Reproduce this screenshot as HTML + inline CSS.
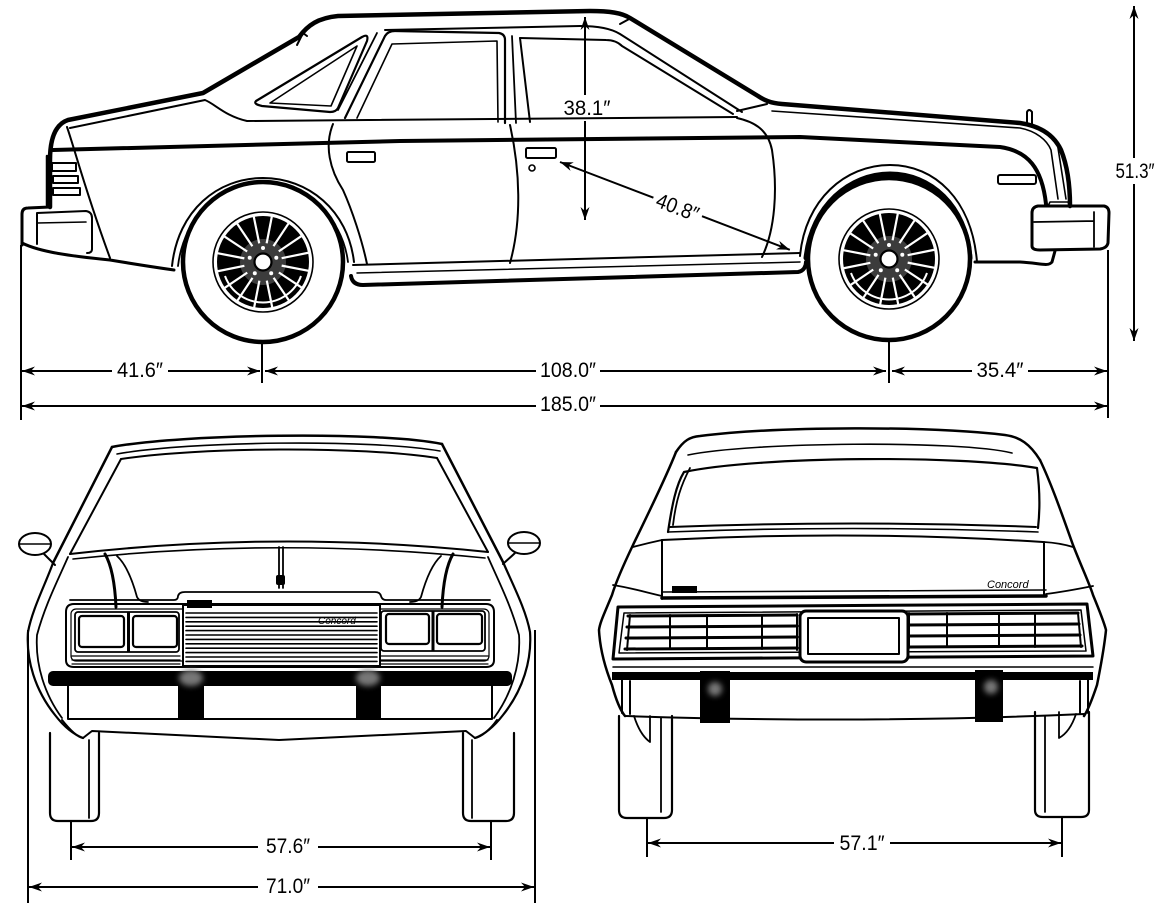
<!DOCTYPE html>
<html><head><meta charset="utf-8"><style>
html,body{margin:0;padding:0;background:#fff;}
svg{display:block;}
text{font-family:"Liberation Sans","DejaVu Sans",sans-serif;font-size:21px;fill:#000;}
.sc{font-style:italic;font-size:10px;}
</style></head><body>
<svg width="1167" height="910" viewBox="0 0 1167 910" xmlns="http://www.w3.org/2000/svg">
<defs>
 <filter id="bl" x="-1" y="-1" width="3" height="3"><feGaussianBlur stdDeviation="3"/></filter>
 <g id="wheel">
  <circle r="50" fill="#fff" stroke="#000" stroke-width="1.6"/>
  <circle r="46" fill="#000"/>
  <circle r="23" fill="#3c3c3c"/>
  <g stroke="#fff" stroke-width="2.2">
   <line x1="0" y1="-19" x2="0" y2="-47" transform="rotate(11)"/>
   <line x1="0" y1="-19" x2="0" y2="-47" transform="rotate(33.5)"/>
   <line x1="0" y1="-19" x2="0" y2="-47" transform="rotate(56)"/>
   <line x1="0" y1="-19" x2="0" y2="-47" transform="rotate(78.5)"/>
   <line x1="0" y1="-19" x2="0" y2="-47" transform="rotate(101)"/>
   <line x1="0" y1="-19" x2="0" y2="-47" transform="rotate(123.5)"/>
   <line x1="0" y1="-19" x2="0" y2="-47" transform="rotate(146)"/>
   <line x1="0" y1="-19" x2="0" y2="-47" transform="rotate(168.5)"/>
   <line x1="0" y1="-19" x2="0" y2="-47" transform="rotate(191)"/>
   <line x1="0" y1="-19" x2="0" y2="-47" transform="rotate(213.5)"/>
   <line x1="0" y1="-19" x2="0" y2="-47" transform="rotate(236)"/>
   <line x1="0" y1="-19" x2="0" y2="-47" transform="rotate(258.5)"/>
   <line x1="0" y1="-19" x2="0" y2="-47" transform="rotate(281)"/>
   <line x1="0" y1="-19" x2="0" y2="-47" transform="rotate(303.5)"/>
   <line x1="0" y1="-19" x2="0" y2="-47" transform="rotate(326)"/>
   <line x1="0" y1="-19" x2="0" y2="-47" transform="rotate(348.5)"/>
  </g>
  <path d="M-38,14 A40.5,40.5 0 0 0 38,14" stroke="#fff" stroke-width="2" fill="none"/>
  <circle r="8.5" fill="#fff" stroke="#000" stroke-width="2.2"/>
  <g fill="#fff">
   <circle cx="0" cy="-14" r="2"/><circle cx="13.3" cy="-4.3" r="2"/><circle cx="8.2" cy="11.3" r="2"/><circle cx="-8.2" cy="11.3" r="2"/><circle cx="-13.3" cy="-4.3" r="2"/>
  </g>
 </g>
</defs>

<!-- ================= SIDE VIEW ================= -->
<g fill="none" stroke="#000" stroke-linecap="round" stroke-linejoin="round">
<path stroke-width="4.5" d="M50,207 L50,160 C50,138 56,124 68,120 L203,93 L299,37 C308,25 318,18 338,16 L590,11 C610,11 622,13 630,18 L758,96 C764,100 770,103 782,104 L1020,123 C1040,126 1054,135 1061,150 C1067,165 1070,185 1070,206"/>
<path stroke-width="2" d="M70,128 L205,100 C215,104 225,116 247,121 L737,117"/>
<path stroke-width="2" d="M297,45 L303,33 L307,36"/>
<path stroke-width="2.2" d="M256,101 L362,37 Q369,33 367,41 L338,108 Q336,112 330,112 L262,106 Q253,104 256,101 Z"/>
<path stroke-width="1.6" d="M270,103 L357,46 L331,106 Z"/>
<path stroke-width="2.2" d="M345,118 L385,36 Q388,31 395,31 L499,33 Q505,34 505,40 L505,123"/>
<path stroke-width="1.6" d="M357,118 L392,44 L497,41 L498,122"/>
<path stroke-width="1.8" d="M338,110 L377,33"/>
<path stroke-width="1.8" d="M512,36 L516,123"/>
<path stroke-width="2" d="M520,38 L530,122"/>
<path stroke-width="2" d="M520,38 L606,40 Q616,40 622,46 L733,114"/>
<path stroke-width="2" d="M385,30 L580,26 C600,26 612,29 620,34 L742,112"/>
<path stroke-width="2" d="M737,111 L767,104"/>
<path stroke-width="2" d="M620,24 L631,18"/>
<path stroke-width="4" d="M53,150 L400,141 L800,137 L1000,147 C1028,151 1042,168 1046,204"/>
<path stroke-width="1.6" d="M772,111 L1020,128 C1036,131 1047,140 1051,150 L1058,199"/>
<path stroke-width="1.6" d="M1058,148 L1066,199"/>
<path stroke-width="2" d="M333,124 C324,146 330,170 343,190 C352,210 362,240 367,264"/>
<path stroke-width="2" d="M510,125 C520,170 522,220 510,263"/>
<path stroke-width="2" d="M737,118 C755,122 768,130 772,150 C778,190 775,230 762,257"/>
<rect x="347" y="152" width="28" height="10" rx="1.5" stroke-width="2"/>
<rect x="526" y="148" width="30" height="10" rx="1.5" stroke-width="2"/>
<circle cx="532" cy="168" r="3" stroke-width="1.6"/>
<path stroke-width="2" d="M353,265 L800,253"/>
<path stroke-width="1.5" d="M357,273 L800,262"/>
<path stroke-width="4" d="M351,276 C352,282 356,285 363,285 L798,272 C804,271 806,266 806,262"/>
<path stroke-width="2" d="M67,127 C75,150 85,190 110,258"/>
<rect x="52" y="163" width="24" height="8" stroke-width="2"/>
<rect x="53" y="176" width="25" height="7" stroke-width="2"/>
<rect x="53" y="188" width="27" height="7" stroke-width="2"/>
<path stroke-width="2.5" d="M47,156 L47,205"/>
<path stroke-width="3" d="M22,245 L22,214 Q22,208 28,208 L50,207"/>
<path stroke-width="2" d="M37,244 L37,213 L86,211 Q92,212 92,218 L92,249 Q92,253 87,253"/>
<path stroke-width="1.6" d="M37,223 L86,222"/>
<path stroke-width="3" d="M22,243 C40,252 70,256 110,260 C140,265 160,268 174,270"/>
<path stroke-width="2" d="M172,266 C178,210 218,178 263,178 C308,178 348,210 354,262"/>
<path stroke-width="1.8" d="M178,266 C184,215 222,184 263,184 C304,184 342,215 348,262"/>
<path stroke-width="2" d="M800,256 C805,200 845,165 890,165 C935,165 972,200 977,262"/>
<path stroke-width="5" d="M806,258 C812,205 850,174 890,174 C930,174 966,205 970,258"/>
<path stroke-width="3" d="M975,262 L1020,262 C1040,263 1048,267 1052,262 L1055,251"/>
<rect x="998" y="175" width="38" height="9" rx="2" stroke-width="2"/>
<path stroke-width="2" d="M1027,124 L1027,112 Q1029,108 1032,112 L1032,124"/>
<path stroke-width="3" d="M1032,246 L1032,213 Q1032,207 1038,206 L1104,206 Q1109,207 1109,213 L1108,243 Q1107,248 1100,249 L1040,250 Q1032,250 1032,246 Z"/>
<path stroke-width="1.8" d="M1034,222 L1094,221 M1094,212 L1094,247"/>
<path stroke-width="1.6" d="M1048,206 L1050,202 L1068,202 L1070,206"/>
</g>
<circle cx="263" cy="262" r="80" fill="#fff" stroke="#000" stroke-width="4.5"/>
<use href="#wheel" x="263" y="262"/>
<circle cx="889" cy="259" r="81" fill="#fff" stroke="#000" stroke-width="4.5"/>
<use href="#wheel" x="889" y="259"/>

<!-- side dimensions -->
<g stroke="#000" stroke-width="2" fill="none">
<path d="M21,245 L21,420 M1108,250 L1108,418 M262,343 L262,383 M889,341 L889,383"/>
<path d="M22,371 L112,371 M168,371 L260,371 M265,371 L536,371 M600,371 L886,371 M892,371 L972,371 M1028,371 L1107,371"/>
<path d="M22,406 L536,406 M600,406 L1107,406"/>
<path d="M1134,6 L1134,158 M1134,184 L1134,341"/>
<path d="M585,17 L585,95 M585,121 L585,220"/>
</g>
<g fill="#000">
<polygon points="22,371 35,366.5 31,371 35,375.5"/>
<polygon points="260,371 247,366.5 251,371 247,375.5"/>
<polygon points="265,371 278,366.5 274,371 278,375.5"/>
<polygon points="886,371 873,366.5 877,371 873,375.5"/>
<polygon points="892,371 905,366.5 901,371 905,375.5"/>
<polygon points="1107,371 1094,366.5 1098,371 1094,375.5"/>
<polygon points="22,406 35,401.5 31,406 35,410.5"/>
<polygon points="1107,406 1094,401.5 1098,406 1094,410.5"/>
<polygon points="1134,6 1129.5,19 1134,15 1138.5,19"/>
<polygon points="1134,341 1129.5,328 1134,332 1138.5,328"/>
<polygon points="585,17 580.5,30 585,26 589.5,30"/>
<polygon points="585,220 580.5,207 585,211 589.5,207"/>
</g>
<g transform="translate(560,162) rotate(20.9)">
 <path d="M0,0 L100,0 M152,0 L246,0" stroke="#000" stroke-width="2" fill="none"/>
 <polygon points="0,0 13,-4.5 9,0 13,4.5" fill="#000"/>
 <polygon points="246,0 233,-4.5 237,0 233,4.5" fill="#000"/>
 <text x="126" y="7.5" text-anchor="middle" textLength="44" lengthAdjust="spacingAndGlyphs">40.8″</text>
</g>
<text x="140" y="377" text-anchor="middle" textLength="46" lengthAdjust="spacingAndGlyphs">41.6″</text>
<text x="568" y="377" text-anchor="middle" textLength="56" lengthAdjust="spacingAndGlyphs">108.0″</text>
<text x="1000" y="377" text-anchor="middle" textLength="47" lengthAdjust="spacingAndGlyphs">35.4″</text>
<text x="568" y="411" text-anchor="middle" textLength="56" lengthAdjust="spacingAndGlyphs">185.0″</text>
<text x="1135" y="178" text-anchor="middle" textLength="39" lengthAdjust="spacingAndGlyphs">51.3″</text>
<text x="587" y="115" text-anchor="middle" textLength="47" lengthAdjust="spacingAndGlyphs">38.1″</text>

<!-- ================= FRONT VIEW ================= -->
<g fill="none" stroke="#000" stroke-linecap="round" stroke-linejoin="round">
<path stroke-width="2.5" d="M112,447 C180,434 380,431 442,444"/>
<path stroke-width="1.6" d="M117,454 C190,441 370,439 440,451"/>
<path stroke-width="2" d="M121,459 C200,447 360,446 437,458"/>
<path stroke-width="2.5" d="M112,447 L53,563"/>
<path stroke-width="2" d="M121,459 L70,554"/>
<path stroke-width="2.5" d="M442,444 L503,562"/>
<path stroke-width="2" d="M437,458 L488,552"/>
<path stroke-width="2" d="M70,554 Q279,530 488,552"/>
<path stroke-width="1.6" d="M73,559 Q279,537 485,558"/>
<path stroke-width="3" d="M105,554 C112,566 115,585 116,607"/>
<path stroke-width="1.8" d="M117,556 C128,566 134,586 137,597 C139,601 143,602 148,602"/>
<path stroke-width="3" d="M453,554 C446,566 443,585 442,607"/>
<path stroke-width="1.8" d="M441,556 C430,566 424,586 421,597 C419,601 415,602 410,602"/>
<path stroke-width="1.8" d="M70,600 L174,600 Q178,600 178,596 Q179,592 185,592 L375,592 Q380,592 381,596 Q382,600 386,600 L490,600"/>
<path stroke-width="2" d="M74,604 L486,604 Q494,604 494,612 L494,660 Q494,667 486,667 L74,667 Q66,667 66,660 L66,612 Q66,604 74,604 Z"/>
<rect x="71" y="609" width="418" height="52" rx="5" stroke-width="1.2"/>
<rect x="75" y="612" width="104" height="40" rx="3" stroke-width="1.8"/>
<rect x="79" y="616" width="45" height="31" rx="3" stroke-width="2.2"/>
<rect x="133" y="616" width="44" height="31" rx="3" stroke-width="2.2"/>
<path stroke-width="3" d="M128.5,613 L128.5,651"/>
<rect x="381" y="611" width="104" height="40" rx="3" stroke-width="1.8"/>
<rect x="386" y="614" width="43" height="30" rx="3" stroke-width="2.2"/>
<rect x="437" y="614" width="45" height="30" rx="3" stroke-width="2.2"/>
<path stroke-width="3" d="M433,612 L433,650"/>
<path stroke-width="1.2" d="M72,656 L180,656 M72,660 L180,660 M72,664 L180,664 M380,656 L488,656 M380,660 L488,660 M380,664 L488,664"/>
<rect x="183" y="605" width="197" height="61" stroke-width="2" fill="#fff"/>
<path stroke-width="1.6" d="M186,613 L377,613 M186,617.4 L377,617.4 M186,621.8 L377,621.8 M186,626.2 L377,626.2 M186,630.6 L377,630.6 M186,635 L377,635 M186,639.4 L377,639.4 M186,643.8 L377,643.8 M186,648.2 L377,648.2 M186,652.6 L377,652.6 M186,657 L377,657 M186,661.4 L377,661.4"/>
<path stroke-width="2" d="M68,686 L68,719 L492,719 L492,686"/>
<path stroke-width="2" d="M62,720 C70,730 77,737 83,738 L92,731 L279,740 L466,731 L475,738 C481,737 490,730 497,720"/>
<path stroke-width="2.2" d="M53,563 C45,585 32,610 28,632 C26,660 35,690 55,715 C65,728 75,735 83,738"/>
<path stroke-width="1.8" d="M68,557 C58,580 45,605 37,635 C35,665 45,695 62,718"/>
<path stroke-width="2.2" d="M503,562 C513,585 526,610 530,632 C532,660 523,690 503,715 C493,728 483,735 475,738"/>
<path stroke-width="1.8" d="M488,557 C498,580 511,605 519,635 C521,665 511,695 494,718"/>
<ellipse cx="35" cy="544" rx="16" ry="11" stroke-width="2"/>
<path stroke-width="1.6" d="M20,544 L50,544"/>
<path stroke-width="2" d="M44,554 C48,558 51,561 55,565"/>
<ellipse cx="524" cy="543" rx="16" ry="11" stroke-width="2"/>
<path stroke-width="1.6" d="M509,543 L539,543"/>
<path stroke-width="2" d="M515,553 C511,557 507,560 503,564"/>
<path stroke-width="1.8" d="M279,547 L279,588 M283,547 L283,588"/>
<path stroke-width="2.2" d="M50,733 L50,813 Q50,821 58,821 L91,821 Q99,821 99,813 L99,733"/>
<path stroke-width="1.8" d="M89,740 L89,818"/>
<path stroke-width="2.2" d="M463,733 L463,813 Q463,821 471,821 L506,821 Q514,821 514,813 L514,733"/>
<path stroke-width="1.8" d="M472,740 L472,818"/>
</g>
<rect x="187" y="600" width="25" height="8" fill="#000"/>
<rect x="276" y="575" width="9" height="10" rx="2" fill="#000"/>
<text class="sc" x="318" y="624">Concord</text>
<rect x="48" y="671" width="464" height="15" rx="5" fill="#000"/>
<rect x="178" y="671" width="26" height="49" fill="#000"/>
<rect x="356" y="671" width="25" height="49" fill="#000"/>
<ellipse cx="191" cy="678" rx="12" ry="8" fill="#777" filter="url(#bl)"/>
<ellipse cx="368" cy="678" rx="12" ry="8" fill="#777" filter="url(#bl)"/>

<!-- front dims -->
<g stroke="#000" stroke-width="2" fill="none">
<path d="M71,822 L71,860 M491,822 L491,860 M28,630 L28,903 M535,630 L535,903"/>
<path d="M72,847 L258,847 M318,847 L490,847 M29,887 L258,887 M318,887 L534,887"/>
</g>
<g fill="#000">
<polygon points="72,847 85,842.5 81,847 85,851.5"/>
<polygon points="490,847 477,842.5 481,847 477,851.5"/>
<polygon points="29,887 42,882.5 38,887 42,891.5"/>
<polygon points="534,887 521,882.5 525,887 521,891.5"/>
</g>
<text x="288" y="853" text-anchor="middle" textLength="44" lengthAdjust="spacingAndGlyphs">57.6″</text>
<text x="288" y="893" text-anchor="middle" textLength="44" lengthAdjust="spacingAndGlyphs">71.0″</text>

<!-- ================= REAR VIEW ================= -->
<g fill="none" stroke="#000" stroke-linecap="round" stroke-linejoin="round">
<path stroke-width="2.5" d="M676,452 C684,440 690,437 700,436 C780,426 930,426 1005,435 C1020,437 1030,444 1040,460"/>
<path stroke-width="1.6" d="M688,455 C750,442 960,440 1012,453"/>
<path stroke-width="2.2" d="M668,532 C672,505 676,485 684,472 C760,456 960,455 1037,468 C1040,490 1040,510 1038,528"/>
<path stroke-width="1.8" d="M673,525 C676,500 681,485 690,468"/>
<path stroke-width="2" d="M670,527 Q853,520 1036,527"/>
<path stroke-width="1.6" d="M668,532 Q853,525 1038,532"/>
<path stroke-width="2" d="M662,540 Q853,530 1043,542"/>
<path stroke-width="2" d="M662,540 L662,599 M1044,542 L1044,596"/>
<path stroke-width="1.5" d="M662,592 L1046,590"/>
<path stroke-width="3.5" d="M662,598 L1046,596"/>
<path stroke-width="2.5" d="M676,452 C665,480 645,520 633,545 C622,568 615,585 612,595 C605,612 600,622 599,630 C600,650 606,670 612,685 C616,700 620,710 625,716"/>
<path stroke-width="2.5" d="M1040,460 C1052,485 1064,520 1073,545 C1082,568 1090,585 1093,595 C1100,612 1104,622 1106,630 C1104,650 1100,670 1097,685 C1092,700 1088,710 1084,716"/>
<path stroke-width="1.8" d="M633,547 Q648,543 662,540 M1044,542 Q1060,543 1073,547"/>
<path stroke-width="1.8" d="M613,585 C632,588 648,593 662,596 M1046,594 C1062,592 1078,589 1093,586"/>
<path stroke-width="3" d="M618,607 L1087,604 L1093,656 L613,659 Z"/>
<path stroke-width="1.5" d="M624,613 L1081,610 L1086,651 L619,653 Z"/>
<path stroke-width="3" d="M628,616 L797,615 M627,627 L797,626 M626,638 L797,637 M625,649 L797,648"/>
<path stroke-width="2" d="M630,615 L627,650 M670,615 L670,649 M707,615 L707,649 M762,615 L762,649 M797,614 L797,650"/>
<path stroke-width="3" d="M909,614 L1078,613 M909,625 L1079,624 M909,636 L1080,635 M909,647 L1082,646"/>
<path stroke-width="2" d="M909,613 L909,648 M947,613 L947,647 M999,613 L999,647 M1035,613 L1035,647 M1078,613 L1081,647"/>
<rect x="800" y="611" width="108" height="51" rx="6" stroke-width="3" fill="#fff"/>
<rect x="808" y="618" width="91" height="36" stroke-width="2"/>
<path stroke-width="1.5" d="M613,667 L1093,667"/>
<path stroke-width="2" d="M622,680 L622,713 M1088,680 L1088,713 M630,681 L630,714 M1080,681 L1080,713"/>
<path stroke-width="2" d="M625,716 Q866,724 1084,714"/>
<path stroke-width="2.2" d="M619,716 L619,810 Q619,818 627,818 L664,818 Q672,818 672,810 L672,716"/>
<path stroke-width="1.8" d="M661,718 L661,812"/>
<path stroke-width="1.8" d="M634,716 Q640,735 650,742 L650,716"/>
<path stroke-width="2.2" d="M1035,712 L1035,810 Q1035,817 1043,817 L1081,817 Q1089,817 1089,810 L1089,712"/>
<path stroke-width="1.8" d="M1045,716 L1045,812"/>
<path stroke-width="1.8" d="M1076,714 Q1070,732 1059,738 L1059,712"/>
</g>
<rect x="672" y="586" width="25" height="7" fill="#000"/>
<text class="sc" x="987" y="588" style="font-size:11px">Concord</text>
<rect x="612" y="672" width="481" height="8" fill="#000"/>
<rect x="700" y="671" width="30" height="52" fill="#000"/>
<rect x="975" y="670" width="28" height="52" fill="#000"/>
<circle cx="715" cy="689" r="7" fill="#777" filter="url(#bl)"/>
<circle cx="991" cy="687" r="7" fill="#777" filter="url(#bl)"/>

<!-- rear dims -->
<g stroke="#000" stroke-width="2" fill="none">
<path d="M647,818 L647,857 M1062,818 L1062,857"/>
<path d="M648,843 L834,843 M890,843 L1061,843"/>
</g>
<g fill="#000">
<polygon points="648,843 661,838.5 657,843 661,847.5"/>
<polygon points="1061,843 1048,838.5 1052,843 1048,847.5"/>
</g>
<text x="862" y="850" text-anchor="middle" textLength="45" lengthAdjust="spacingAndGlyphs">57.1″</text>
</svg>
</body></html>
